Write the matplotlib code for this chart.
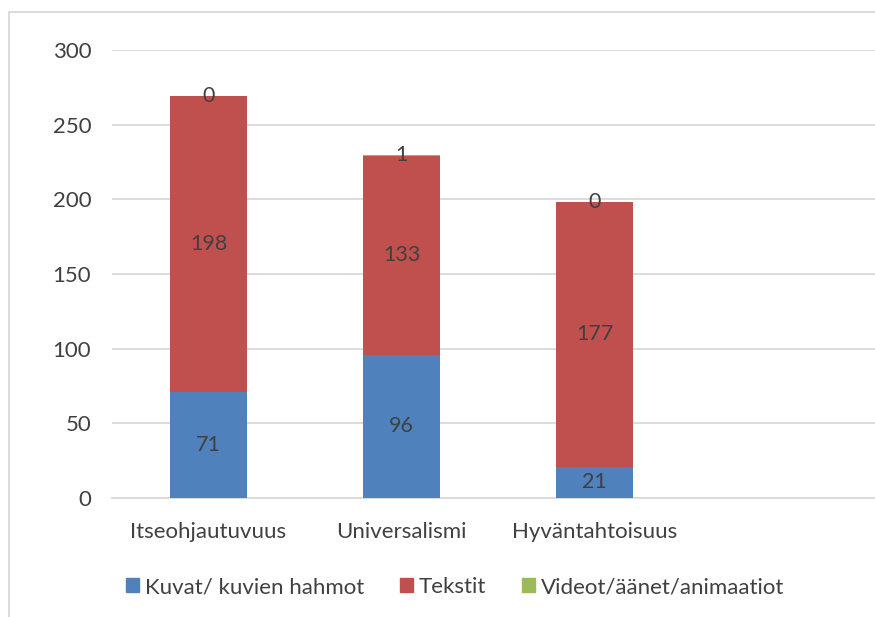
import matplotlib
matplotlib.use("Agg")
import matplotlib.pyplot as plt
from matplotlib.patches import Rectangle, Patch
import numpy as np

categories = ["Itseohjautuvuus", "Universalismi", "Hyväntahtoisuus", ""]
kuvat = [71, 96, 21, 0]
tekstit = [198, 133, 177, 0]
videot = [0, 1, 0, 0]
series_names = ["Kuvat/ kuvien hahmot", "Tekstit", "Videot/äänet/animaatiot"]
colors = ["#4F81BD", "#C0504D", "#9BBB59"]
yticks = [0, 50, 100, 150, 200, 250, 300]

plt.rcParams["font.family"] = ["Lato", "DejaVu Sans"]
text_color = "#404040"
grid_color = "#D9D9D9"

W, H = 875, 617
fig = plt.figure(figsize=(W / 100, H / 100), dpi=100)

# outer chart frame (cropped on the right and bottom)
fig.patches.append(Rectangle((9 / W, -0.1), 1.2, 1 - 12 / H + 0.1,
                             transform=fig.transFigure, fill=False,
                             edgecolor=grid_color, linewidth=1.3))

ax = fig.add_axes([112 / W, (H - 498) / H, 772 / W, 448 / H])
x = np.arange(len(categories))
n_real = 3
bottom = np.zeros(len(categories))
for vals, name, col in zip([kuvat, tekstit, videot], series_names, colors):
    vals = np.array(vals)
    ax.bar(x, vals, 0.4, bottom=bottom, color=col, label=name, zorder=3)
    for i in range(n_real):
        ax.text(x[i], bottom[i] + vals[i] / 2, str(vals[i]), ha="center",
                va="center", fontsize=15.5, color=text_color, zorder=4)
    bottom += vals

ax.set_xlim(-0.5, len(categories) - 0.5)
ax.set_ylim(0, 300)
ax.set_yticks(yticks)
ax.set_xticks(x[:n_real])
ax.set_xticklabels(categories[:n_real])
ax.tick_params(axis="both", length=0, labelsize=16, labelcolor=text_color)
ax.tick_params(axis="x", pad=17)
ax.tick_params(axis="y", pad=15)
ax.grid(axis="y", color=grid_color, linewidth=1.3, zorder=0)
for s in ["top", "right", "left"]:
    ax.spines[s].set_visible(False)
ax.spines["bottom"].set_color(grid_color)
ax.spines["bottom"].set_linewidth(1.3)

handles = [Patch(color=c) for c in colors]
fig.legend(handles, series_names, loc="center", bbox_to_anchor=(455 / W, 1 - 587 / H),
           ncol=3, frameon=False, fontsize=16, labelcolor=text_color,
           handlelength=0.6, handleheight=0.6, handletextpad=0.25, columnspacing=1.6)

fig.savefig("out.png", dpi=100)
